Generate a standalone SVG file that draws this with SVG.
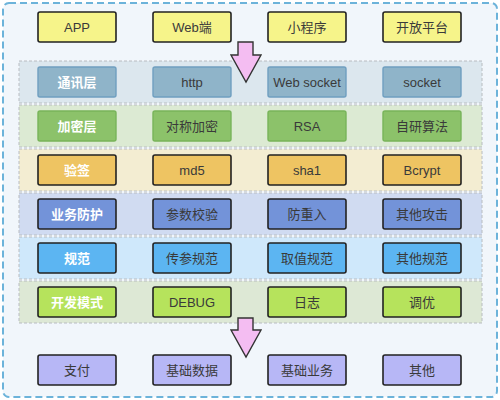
<svg xmlns="http://www.w3.org/2000/svg" width="500" height="400" viewBox="0 0 500 400">
<style>
text{font-family:"Liberation Sans","Noto Sans CJK SC",sans-serif;font-size:13px;text-anchor:middle;dominant-baseline:central;fill:#3a3a3a}
.lbl{fill:#fff;font-weight:bold}
.band{stroke:#b8bcc0;stroke-width:1;stroke-dasharray:3 2}
.bx{stroke:#222;stroke-width:1.6}
.y{fill:#f6f48a}
.c1{fill:#8fb4c9;stroke:#6f9fc0;stroke-width:1.4}
.c2{fill:#8cc26a;stroke:#78b45a;stroke-width:1.4}
.c3{fill:#eec462}
.c4{fill:#7393d9}
.c5{fill:#5cb5f2}
.c6{fill:#b6e35c}
.c7{fill:#b7b7f6}
.arr{fill:#f4bdf2;stroke:#333;stroke-width:1.4;stroke-linejoin:miter}
</style>
<rect x="3" y="3" width="494" height="394" rx="6" fill="#f1f6fb" stroke="#6cb3da" stroke-width="2" stroke-dasharray="7 4"/>
<g id="bands">
<rect class="band" x="19" y="61" width="463" height="42" fill="#dce7ee"/>
<rect class="band" x="19" y="105" width="463" height="42" fill="#dcead3"/>
<rect class="band" x="19" y="149" width="463" height="42" fill="#f3edd2"/>
<rect class="band" x="19" y="193" width="463" height="42" fill="#d0dbf1"/>
<rect class="band" x="19" y="237" width="463" height="42" fill="#cfe8fb"/>
<rect class="band" x="19" y="281" width="463" height="42" fill="#dde8d5"/>
</g>
<g id="connectors">
<path class="arr" d="M238,42 H253 V55 H261 L246,82 L231,55 H238 Z"/>
<path class="arr" d="M238,318 H253 V330 H261 L246,357 L231,330 H238 Z"/>
</g>
<g id="n-app"><rect class="bx y" x="38" y="12" width="78" height="30" rx="2"/><text x="77" y="27">APP</text></g>
<g id="n-web"><rect class="bx y" x="153" y="12" width="78" height="30" rx="2"/><text x="192" y="27">Web端</text></g>
<g id="n-mini"><rect class="bx y" x="268" y="12" width="78" height="30" rx="2"/><text x="307" y="27">小程序</text></g>
<g id="n-open"><rect class="bx y" x="383" y="12" width="78" height="30" rx="2"/><text x="422" y="27">开放平台</text></g>

<g id="n-comm"><rect class="c1" x="38" y="67" width="78" height="30" rx="2"/><text class="lbl" x="77" y="82">通讯层</text></g>
<g id="n-http"><rect class="c1" x="153" y="67" width="78" height="30" rx="2"/><text x="192" y="82">http</text></g>
<g id="n-ws"><rect class="c1" x="268" y="67" width="78" height="30" rx="2"/><text x="307" y="82">Web socket</text></g>
<g id="n-socket"><rect class="c1" x="383" y="67" width="78" height="30" rx="2"/><text x="422" y="82">socket</text></g>

<g id="n-enc"><rect class="c2" x="38" y="111" width="78" height="30" rx="2"/><text class="lbl" x="77" y="126">加密层</text></g>
<g id="n-sym"><rect class="c2" x="153" y="111" width="78" height="30" rx="2"/><text x="192" y="126">对称加密</text></g>
<g id="n-rsa"><rect class="c2" x="268" y="111" width="78" height="30" rx="2"/><text x="307" y="126">RSA</text></g>
<g id="n-own"><rect class="c2" x="383" y="111" width="78" height="30" rx="2"/><text x="422" y="126">自研算法</text></g>

<g id="n-sign"><rect class="bx c3" x="38" y="155" width="78" height="30" rx="2"/><text class="lbl" x="77" y="170">验签</text></g>
<g id="n-md5"><rect class="bx c3" x="153" y="155" width="78" height="30" rx="2"/><text x="192" y="170">md5</text></g>
<g id="n-sha1"><rect class="bx c3" x="268" y="155" width="78" height="30" rx="2"/><text x="307" y="170">sha1</text></g>
<g id="n-bcrypt"><rect class="bx c3" x="383" y="155" width="78" height="30" rx="2"/><text x="422" y="170">Bcrypt</text></g>

<g id="n-biz"><rect class="bx c4" x="38" y="199" width="78" height="30" rx="2"/><text class="lbl" x="77" y="214">业务防护</text></g>
<g id="n-param"><rect class="bx c4" x="153" y="199" width="78" height="30" rx="2"/><text x="192" y="214">参数校验</text></g>
<g id="n-replay"><rect class="bx c4" x="268" y="199" width="78" height="30" rx="2"/><text x="307" y="214">防重入</text></g>
<g id="n-attack"><rect class="bx c4" x="383" y="199" width="78" height="30" rx="2"/><text x="422" y="214">其他攻击</text></g>

<g id="n-spec"><rect class="bx c5" x="38" y="243" width="78" height="30" rx="2"/><text class="lbl" x="77" y="258">规范</text></g>
<g id="n-pass"><rect class="bx c5" x="153" y="243" width="78" height="30" rx="2"/><text x="192" y="258">传参规范</text></g>
<g id="n-get"><rect class="bx c5" x="268" y="243" width="78" height="30" rx="2"/><text x="307" y="258">取值规范</text></g>
<g id="n-other-spec"><rect class="bx c5" x="383" y="243" width="78" height="30" rx="2"/><text x="422" y="258">其他规范</text></g>

<g id="n-dev"><rect class="bx c6" x="38" y="287" width="78" height="30" rx="2"/><text class="lbl" x="77" y="302">开发模式</text></g>
<g id="n-debug"><rect class="bx c6" x="153" y="287" width="78" height="30" rx="2"/><text x="192" y="302">DEBUG</text></g>
<g id="n-log"><rect class="bx c6" x="268" y="287" width="78" height="30" rx="2"/><text x="307" y="302">日志</text></g>
<g id="n-tune"><rect class="bx c6" x="383" y="287" width="78" height="30" rx="2"/><text x="422" y="302">调优</text></g>

<g id="n-pay"><rect class="bx c7" x="38" y="355" width="78" height="30" rx="2"/><text x="77" y="370">支付</text></g>
<g id="n-data"><rect class="bx c7" x="153" y="355" width="78" height="30" rx="2"/><text x="192" y="370">基础数据</text></g>
<g id="n-basebiz"><rect class="bx c7" x="268" y="355" width="78" height="30" rx="2"/><text x="307" y="370">基础业务</text></g>
<g id="n-other"><rect class="bx c7" x="383" y="355" width="78" height="30" rx="2"/><text x="422" y="370">其他</text></g>
</svg>
